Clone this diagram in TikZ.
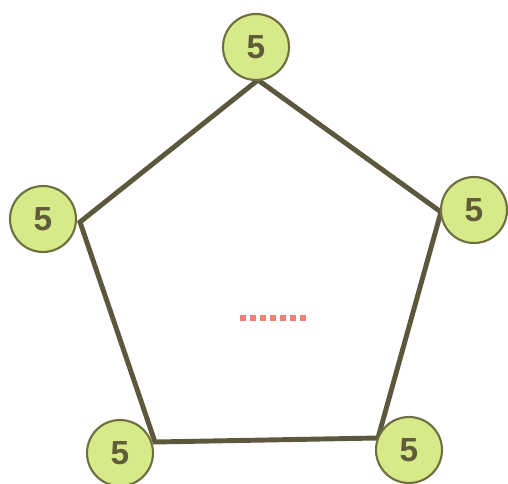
\documentclass[tikz,border=0pt]{standalone}
\usepackage{fontspec}
\setmainfont{Liberation Sans}
\usepackage{tikz}
\usetikzlibrary{positioning}
\definecolor{ballfill}{RGB}{214,234,138}
\definecolor{balledge}{RGB}{112,110,62}
\definecolor{sidecol}{RGB}{92,88,62}
\definecolor{numcol}{RGB}{96,92,58}
\definecolor{blankcol}{RGB}{240,128,118}
\tikzset{
  ball/.style={circle, draw=balledge, line width=1.2pt, fill=ballfill,
    minimum size=1.32cm, inner sep=0pt, text=numcol,
    font=\fontsize{19}{19}\selectfont\bfseries},
  side/.style={draw=sidecol, line width=2.8pt, line join=miter},
  blank/.style={draw=blankcol, line width=3.4pt, dash pattern=on 3.4pt off 2.3pt},
}

\begin{document}
\begin{tikzpicture}[x=0.02cm, y=-0.02cm]
  \useasboundingbox (0,0) rectangle (508,484);

  % corners of the pentagon
  \coordinate (ctop) at (258,80);
  \coordinate (cright) at (441,212);
  \coordinate (cbr) at (378,438);
  \coordinate (cbl) at (155,442);
  \coordinate (cleft) at (80,222);

  % sides
  \draw[side] (ctop) -- (cright) -- (cbr) -- (cbl) -- (cleft) -- cycle;

  % numbers at the corners
  \node[ball] (top) at (256,47) {5};
  \node[ball] (right) at (474,210) {5};
  \node[ball] (br) at (409,450) {5};
  \node[ball] (bl) at (120,453) {5};
  \node[ball] (left) at (43,219) {5};

  % blank to fill in
  \coordinate (blankl) at (240,318);
  \coordinate (blankr) at (307,318);
  \draw[blank] (blankl) -- (blankr);
\end{tikzpicture}
\end{document}
